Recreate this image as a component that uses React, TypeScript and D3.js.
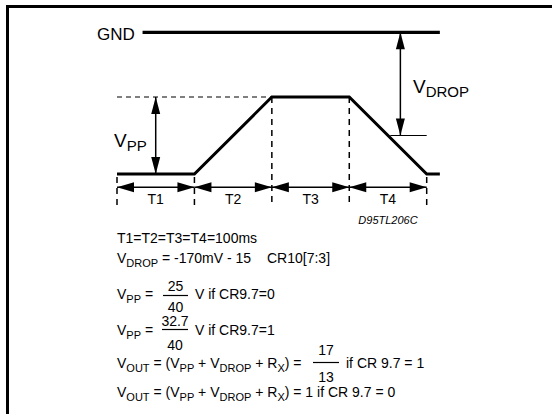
import * as React from 'react';
import * as d3 from 'd3';

// Timing (ms) and levels (1 = VPP above the low level)
const PHASES = ['T1', 'T2', 'T3', 'T4'];
const BOUNDS = [0, 100, 200, 300, 400];
const WAVE_T = [0, 100, 200, 300, 400, 417];
const WAVE_V = [0, 0, 1, 1, 0, 0];
const GND_LEVEL = 1.84;
const GND_SPAN = [33, 417];
const VDROP_TICK = 0.5;
const VDROP_TICK_SPAN = [353, 400];
const VDROP_AT = 366;
const VPP_AT = 50;
const DASH_TOP = [0, 0, 1, 1, 0];

const W = 552;
const H = 414;
const FONT = 'Liberation Sans, Arial, sans-serif';

interface Pt {
    t: number;
    v: number;
}

// [text, isSubscript]
type Part = [string, boolean];

const VOUT_EXPR: Part[] = [
    ['V', false],
    ['OUT', true],
    [' = (V', false],
    ['PP', true],
    [' + V', false],
    ['DROP', true],
    [' + R', false],
    ['X', true]
];

const head = (x: number, y: number, dx: number, dy: number, len: number, half: number) => {
    // tip at (x,y), pointing in direction (dx,dy)
    const bx = x - dx * len;
    const by = y - dy * len;
    const px = -dy * half;
    const py = dx * half;
    return `${x},${y} ${bx + px},${by + py} ${bx - px},${by - py}`;
};

const Arrow: React.FC<{ x1: number; y1: number; x2: number; y2: number; len: number; half: number }> = ({
    x1,
    y1,
    x2,
    y2,
    len,
    half
}) => {
    const d = Math.hypot(x2 - x1, y2 - y1);
    const ux = (x2 - x1) / d;
    const uy = (y2 - y1) / d;
    return (
        <g>
            <line x1={x1} y1={y1} x2={x2} y2={y2} stroke="#000" strokeWidth={1.5} />
            <polygon points={head(x2, y2, ux, uy, len, half)} fill="#000" />
            <polygon points={head(x1, y1, -ux, -uy, len, half)} fill="#000" />
        </g>
    );
};

const Rich: React.FC<{ x: number; y: number; parts: Part[]; size?: number; subSize?: number; shift?: number }> = ({
    x,
    y,
    parts,
    size = 14,
    subSize = 11,
    shift = 4
}) => {
    let cur = 0;
    return (
        <text x={x} y={y} fontSize={size} style={{ whiteSpace: 'pre' }}>
            {parts.map(([s, sub], i) => {
                const target = sub ? shift : 0;
                const dy = target - cur;
                cur = target;
                return (
                    <tspan key={i} dy={dy} fontSize={sub ? subSize : size}>
                        {s}
                    </tspan>
                );
            })}
        </text>
    );
};

export default function App() {
    const x = d3.scaleLinear().domain([0, 400]).range([117, 426.7]);
    const y = d3.scaleLinear().domain([0, 1]).range([174, 97]);

    const wave: Pt[] = WAVE_T.map((t, i) => ({ t, v: WAVE_V[i] }));
    const line = d3
        .line<Pt>()
        .x(d => x(d.t))
        .y(d => y(d.v));

    const arrowY = 187.3;
    const dashBottom = 206;

    return (
        <svg
            width={W}
            height={H}
            style={{ position: 'absolute', left: 0, top: 0, background: '#fff' }}
            fontFamily={FONT}
        >
            {/* frame */}
            <rect x={0} y={0} width={W} height={H} fill="#fff" />
            <path d={`M7.5,${H} V6.5 H${W}`} fill="none" stroke="#000" strokeWidth={3} />

            {/* GND */}
            <text x={97} y={40} fontSize={17}>
                GND
            </text>
            <line
                x1={x(GND_SPAN[0])}
                x2={x(GND_SPAN[1])}
                y1={y(GND_LEVEL)}
                y2={y(GND_LEVEL)}
                stroke="#000"
                strokeWidth={3.3}
            />

            {/* dashed VPP level */}
            <line
                x1={x(0)}
                x2={x(200)}
                y1={y(1)}
                y2={y(1)}
                stroke="#000"
                strokeWidth={1.2}
                strokeDasharray="5,4"
            />

            {/* dashed phase boundaries */}
            {BOUNDS.map((b, i) => (
                <line
                    key={b}
                    x1={x(b)}
                    x2={x(b)}
                    y1={y(DASH_TOP[i]) + (DASH_TOP[i] ? 0 : 3)}
                    y2={dashBottom}
                    stroke="#000"
                    strokeWidth={1.5}
                    strokeDasharray="6,5"
                />
            ))}

            {/* waveform */}
            <path d={line(wave) || ''} fill="none" stroke="#000" strokeWidth={3} strokeLinejoin="miter" />

            {/* VDROP tick */}
            <line
                x1={x(VDROP_TICK_SPAN[0])}
                x2={x(VDROP_TICK_SPAN[1])}
                y1={y(VDROP_TICK)}
                y2={y(VDROP_TICK)}
                stroke="#000"
                strokeWidth={1.2}
            />

            {/* arrows */}
            <Arrow x1={x(VPP_AT)} y1={y(1)} x2={x(VPP_AT)} y2={y(0)} len={17} half={4.5} />
            <Arrow
                x1={x(VDROP_AT)}
                y1={y(GND_LEVEL)}
                x2={x(VDROP_AT)}
                y2={y(VDROP_TICK)}
                len={17}
                half={4.5}
            />
            {PHASES.map((p, i) => (
                <Arrow key={p} x1={x(BOUNDS[i])} y1={arrowY} x2={x(BOUNDS[i + 1])} y2={arrowY} len={17} half={5} />
            ))}
            {PHASES.map((p, i) => (
                <text
                    key={p}
                    x={(x(BOUNDS[i]) + x(BOUNDS[i + 1])) / 2}
                    y={203.5}
                    fontSize={14}
                    textAnchor="middle"
                >
                    {p}
                </text>
            ))}
            <text x={388} y={224} fontSize={11} fontStyle="italic" textAnchor="middle">
                D95TL206C
            </text>

            {/* diagram labels */}
            <Rich x={114} y={146.5} size={19} subSize={15} parts={[['V', false], ['PP', true]]} />
            <Rich x={413} y={93} size={19} subSize={15} parts={[['V', false], ['DROP', true]]} />

            {/* notes */}
            <g fontSize={14}>
                <text x={117} y={243}>
                    T1=T2=T3=T4=100ms
                </text>
                <Rich x={117} y={263} parts={[['V', false], ['DROP', true], [' = -170mV - 15', false]]} />
                <text x={267} y={263}>
                    CR10[7:3]
                </text>

                <Rich x={117} y={299} parts={[['V', false], ['PP', true], [' =', false]]} />
                <text x={175.5} y={290.5} textAnchor="middle">
                    25
                </text>
                <line x1={163} x2={188} y1={295.5} y2={295.5} stroke="#000" strokeWidth={1.2} />
                <text x={175.5} y={311.5} textAnchor="middle">
                    40
                </text>
                <text x={195} y={299}>
                    V if CR9.7=0
                </text>

                <Rich x={117} y={335} parts={[['V', false], ['PP', true], [' =', false]]} />
                <text x={175} y={326} textAnchor="middle">
                    32.7
                </text>
                <line x1={162} x2={188} y1={329.5} y2={329.5} stroke="#000" strokeWidth={1.2} />
                <text x={175} y={350} textAnchor="middle">
                    40
                </text>
                <text x={195} y={335}>
                    V if CR9.7=1
                </text>

                <Rich x={117} y={368} parts={[...VOUT_EXPR, [') =', false]]} />
                <text x={326} y={355} textAnchor="middle">
                    17
                </text>
                <line x1={313} x2={339} y1={362.5} y2={362.5} stroke="#000" strokeWidth={1.2} />
                <text x={326} y={382} textAnchor="middle">
                    13
                </text>
                <text x={346} y={368}>
                    if CR 9.7 = 1
                </text>

                <Rich x={117} y={397} parts={[...VOUT_EXPR, [') = 1 if CR 9.7 = 0', false]]} />
            </g>
        </svg>
    );
}
